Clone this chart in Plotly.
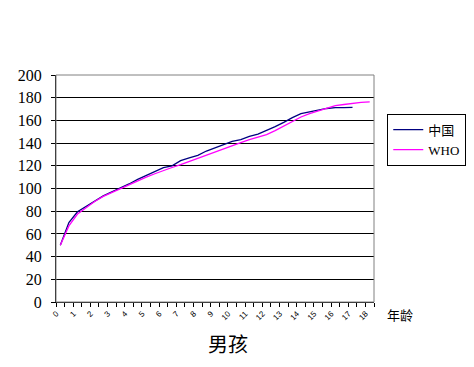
import plotly.graph_objects as go

ages = [i * 0.5 for i in range(37)]
tick_vals = list(range(19))
tick_text = [str(v) for v in tick_vals]
y_ticks = list(range(0, 201, 20))

china = [50, 70, 79.5, 84, 88.5, 93.5, 97, 100.3, 104, 108, 111.5, 114.8, 118.3, 120,
         124.5, 127, 129.2, 133, 136, 139, 141.5, 143, 146, 148, 151, 154.5, 158.2,
         162.5, 166, 167.8, 169, 170.5, 171.3, 171.3, 171.5, None, None]
who = [50, 67, 77.5, 83, 88.5, 93, 96.5, 99.5, 103, 106.5, 110, 113, 116, 118.5,
       121, 123.8, 126.5, 129.5, 132.5, 135.5, 138.3, 140.5, 143, 145.5, 147.5, 151,
       155, 158.5, 163, 166, 168.5, 171, 173, 174, 175, 175.8, 176.3]

fig = go.Figure()
fig.add_trace(go.Scatter(x=ages, y=china, mode="lines", name="中国",
                         line=dict(color="#000080", width=1.3)))
fig.add_trace(go.Scatter(x=ages, y=who, mode="lines", name="WHO",
                         line=dict(color="#FF00FF", width=1.3)))

fig.update_layout(
    width=474, height=367,
    margin=dict(l=56, r=100, t=75, b=65),
    paper_bgcolor="white", plot_bgcolor="white",
    font=dict(family="Liberation Serif", color="black"),
    showlegend=True,
    legend=dict(xref="container", yref="container", x=0.817, y=0.69,
                xanchor="left", yanchor="top",
                bordercolor="black", borderwidth=1, bgcolor="white",
                font=dict(family="Liberation Serif, Noto Sans CJK SC", size=13),
                tracegroupgap=0, itemwidth=30),
    shapes=[dict(type="rect", xref="paper", yref="paper", x0=0, y0=0, x1=1, y1=1,
                 line=dict(color="#808080", width=1), layer="above")],
    annotations=[
        dict(text="年龄", xref="paper", yref="paper", x=1.035, y=0, yshift=-12,
             xanchor="left", yanchor="middle", showarrow=False,
             font=dict(family="Noto Sans CJK SC", size=13)),
        dict(text="男孩", xref="paper", yref="paper", x=0.542, y=0, yshift=-41,
             xanchor="center", yanchor="middle", showarrow=False,
             font=dict(family="Noto Sans CJK SC", size=20)),
    ],
)

fig.update_xaxes(range=[-0.25, 18.25], tickvals=tick_vals, ticktext=tick_text,
                 tickangle=-45, ticks="", tickfont=dict(size=8, family="Liberation Sans"),
                 showgrid=False, zeroline=False, showline=True, linecolor="black",
                 linewidth=1, ticklabelshift=-4, ticklabelstandoff=3,
                 minor=dict(tickvals=[a - 0.25 for a in ages] + [18.25], ticks="outside",
                            ticklen=4, tickcolor="black", showgrid=False))
fig.update_yaxes(range=[0, 200], tickvals=y_ticks, ticks="outside", ticklen=4,
                 tickcolor="black", tickfont=dict(size=16),
                 showgrid=True, gridcolor="black", gridwidth=1, zeroline=False,
                 showline=True, linecolor="black", linewidth=1, ticklabelstandoff=6)

fig.write_html("out.html")
